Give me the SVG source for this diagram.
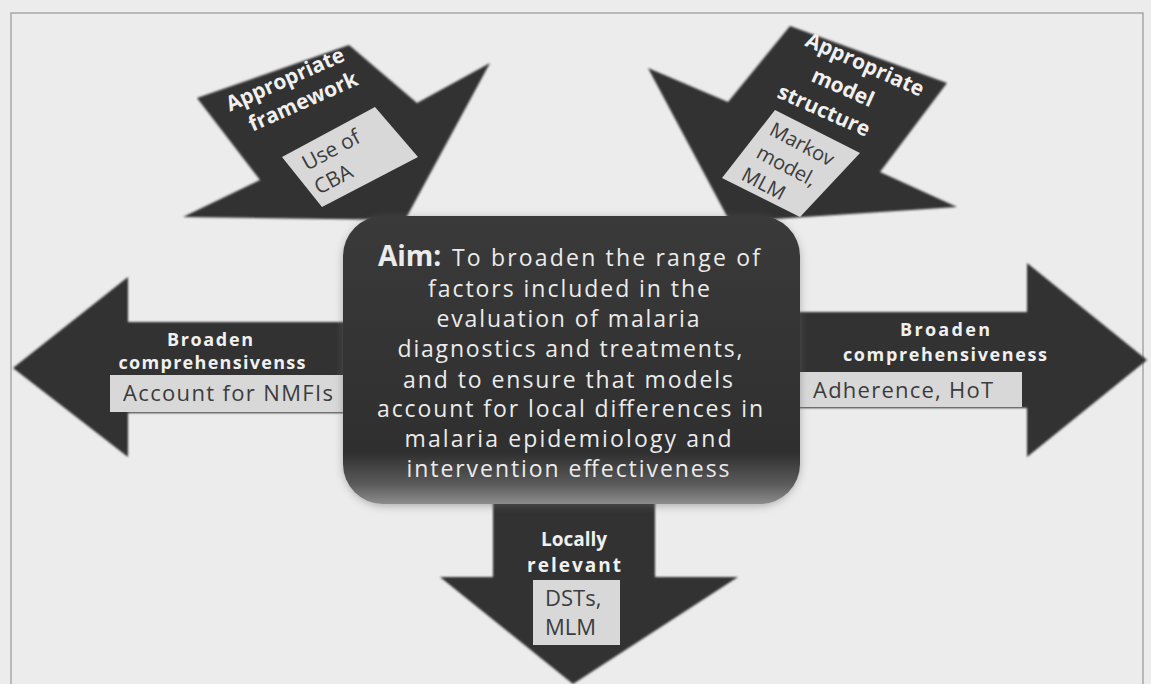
<svg xmlns="http://www.w3.org/2000/svg" width="1151" height="684" viewBox="0 0 1151 684">
<defs>
<style>
.arrow{fill:#303030;}
.lbl{fill:#d8d8d8;}
.t{font-family:"Open Sans","Noto Sans","Liberation Sans",sans-serif;}
.title{font-weight:700;fill:#f0f0f0;font-size:18px;}
.big{font-weight:700;fill:#f0f0f0;font-size:21px;}
.body{fill:#3c3c3c;font-size:20px;}
.aim{fill:#ebebeb;font-size:23px;}
</style>
<linearGradient id="boxg" x1="0" y1="0" x2="0" y2="1">
<stop offset="0" stop-color="#3a3a3a"/>
<stop offset="0.82" stop-color="#2f2f2f"/>
<stop offset="0.93" stop-color="#5a5a5a"/>
<stop offset="1" stop-color="#8c8c8c"/>
</linearGradient>
<filter id="soft" x="-10%" y="-10%" width="120%" height="120%">
<feGaussianBlur stdDeviation="1"/>
</filter>
<filter id="glow" x="-10%" y="-10%" width="120%" height="120%">
<feGaussianBlur stdDeviation="4"/>
</filter>
</defs>
<rect x="0" y="0" width="1151" height="684" fill="#ececec"/>
<rect x="11" y="13" width="1132" height="680" fill="none" stroke="#a6a6a6" stroke-width="1.5"/>
<g id="connectors"/>

<g id="arrow-framework">
<polygon class="arrow" filter="url(#soft)" points="197,98 349,45 417,103 490,63 405,220 183,217 260,180"/>
<text class="t big" transform="translate(288,86) rotate(-24)" text-anchor="middle">Appropriate</text>
<text class="t big" transform="translate(306,108) rotate(-24)" text-anchor="middle">framework</text>
<polygon class="lbl" points="282,157 375,107 418,157 322,207"/>
<text class="t body" transform="translate(307,171) rotate(-28)" style="font-size:21px">Use of</text>
<text class="t body" transform="translate(319,195) rotate(-28)" style="font-size:21px">CBA</text>
</g>

<g id="arrow-structure">
<polygon class="arrow" filter="url(#soft)" points="790,26 947,83 880,172 957,207 730,222 648,68 728,102"/>
<text class="t big" transform="translate(862,71) rotate(24)" text-anchor="middle">Appropriate</text>
<text class="t big" transform="translate(840,94) rotate(24)" text-anchor="middle">model</text>
<text class="t big" transform="translate(821,117) rotate(24)" text-anchor="middle">structure</text>
<polygon class="lbl" points="775,110 860,153 800,217 722,178"/>
<text class="t body" transform="translate(768,134) rotate(28)">Markov</text>
<text class="t body" transform="translate(755,157) rotate(28)">model,</text>
<text class="t body" transform="translate(740,179) rotate(28)">MLM</text>
</g>

<g id="arrow-left">
<polygon class="arrow" filter="url(#soft)" points="360,322 128,322 128,277 13,368 128,457 128,413 360,413"/>
<text class="t title" x="210" y="346" text-anchor="middle" textLength="86">Broaden</text>
<text class="t title" x="212" y="369" text-anchor="middle" textLength="187">comprehensivenss</text>
<rect class="lbl" x="110" y="375" width="235" height="37"/>
<text class="t body" x="123" y="401" textLength="210" style="font-size:22px">Account for NMFIs</text>
</g>

<g id="arrow-right">
<polygon class="arrow" filter="url(#soft)" points="785,312 1027,312 1027,263 1147,360 1027,457 1027,408 785,408"/>
<text class="t title" x="945" y="336" text-anchor="middle" textLength="90">Broaden</text>
<text class="t title" x="945" y="361" text-anchor="middle" textLength="204">comprehensiveness</text>
<rect class="lbl" x="798" y="372" width="224" height="35"/>
<text class="t body" x="813" y="398" textLength="180" style="font-size:22px">Adherence, HoT</text>
</g>

<g id="arrow-bottom">
<polygon class="arrow" filter="url(#soft)" points="493,490 655,490 655,577 738,577 573,684 440,577 493,577"/>
<text class="t title" x="574" y="546" text-anchor="middle" style="font-size:19px">Locally</text>
<text class="t title" x="574" y="572" text-anchor="middle" style="font-size:19px" textLength="94">relevant</text>
<rect class="lbl" x="533" y="580" width="87" height="65"/>
<text class="t body" x="545" y="606" style="font-size:22px">DSTs,</text>
<text class="t body" x="545" y="635" style="font-size:22px">MLM</text>
</g>

<g id="aim">
<rect x="343" y="218" width="457" height="288" rx="42" fill="#6a6a6a" opacity="0.5" filter="url(#glow)"/>
<rect x="343" y="216" width="457" height="288" rx="40" fill="url(#boxg)"/>
<text class="t aim" x="378" y="266" font-weight="700" style="font-size:28px">Aim:</text>
<text class="t aim" x="452" y="266" textLength="308">To broaden the range of</text>
<text class="t aim" x="569" y="297" text-anchor="middle" textLength="282">factors included in the</text>
<text class="t aim" x="568" y="327" text-anchor="middle" textLength="263">evaluation of malaria</text>
<text class="t aim" x="570" y="357" text-anchor="middle" textLength="345">diagnostics and treatments,</text>
<text class="t aim" x="568" y="388" text-anchor="middle" textLength="330">and to ensure that models</text>
<text class="t aim" x="570" y="417" text-anchor="middle" textLength="386">account for local differences in</text>
<text class="t aim" x="568" y="447" text-anchor="middle" textLength="327">malaria epidemiology and</text>
<text class="t aim" x="568" y="477" text-anchor="middle" textLength="323">intervention effectiveness</text>
</g>
</svg>
